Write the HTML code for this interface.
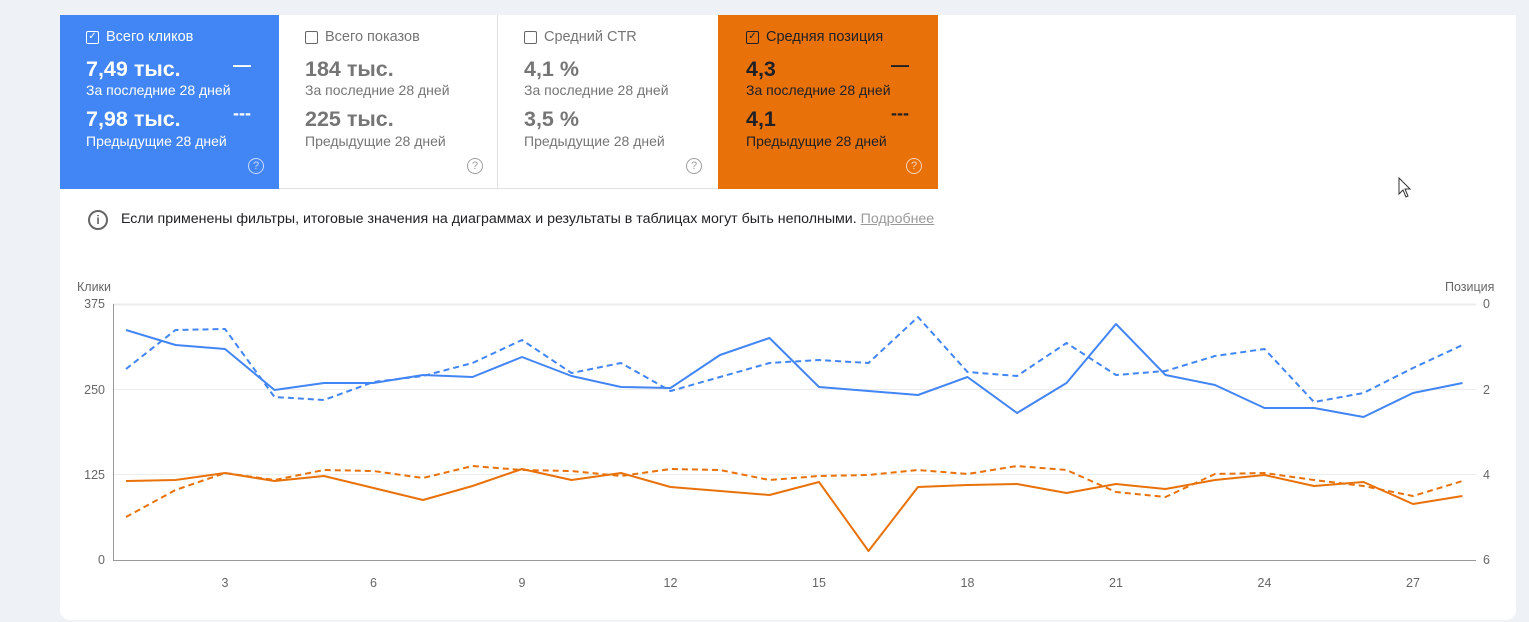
<!DOCTYPE html>
<html><head><meta charset="utf-8"><style>
body{margin:0;width:1529px;height:622px;background:#eef2f7;font-family:"Liberation Sans",sans-serif;position:relative;overflow:hidden}
.card{position:absolute;left:60px;top:15px;width:1456px;height:605px;background:#fff;border-radius:0 0 10px 10px}
.t{position:absolute;top:15px;height:174px;width:219px;box-sizing:border-box}
.t div{position:absolute;left:26px;white-space:nowrap}
.ti{top:14px;font-size:14.5px;padding-left:20px}
.cb{position:absolute;left:0!important;top:2px;width:11px;height:11px;border:1.5px solid;border-radius:2px}
.v{font-size:21.5px;font-weight:bold}
.s{font-size:14px}
.dash{position:absolute;left:173px!important;font-weight:bold;font-size:18px}
.q{position:absolute;left:188px!important;top:143px;width:14px;height:14px;border:1.5px solid;border-radius:50%;font-size:11px;text-align:center;line-height:14px;opacity:.7}
</style></head><body>
<div class="card"></div>
<div class="t" style="left:60px;background:#4285f4;color:#fff">
<div class="ti"><span class="cb" style="border-color:#fff;font-size:10px;line-height:10px;text-align:center">✓</span>Всего кликов</div>
<div class="v" style="top:42px">7,49 тыс.</div><div class="dash" style="top:40px">—</div>
<div class="s" style="top:67px">За последние 28 дней</div>
<div class="v" style="top:92px">7,98 тыс.</div><div class="dash" style="top:88px">---</div>
<div class="s" style="top:118px">Предыдущие 28 дней</div>
<div class="q">?</div></div>
<div class="t" style="left:279px;color:#757575;border-right:1px solid #e0e0e0;border-bottom:1px solid #e0e0e0">
<div class="ti"><span class="cb" style="border-color:#666"></span>Всего показов</div>
<div class="v" style="top:42px">184 тыс.</div>
<div class="s" style="top:67px">За последние 28 дней</div>
<div class="v" style="top:92px">225 тыс.</div>
<div class="s" style="top:118px">Предыдущие 28 дней</div>
<div class="q">?</div></div>
<div class="t" style="left:498px;color:#757575;border-bottom:1px solid #e0e0e0">
<div class="ti"><span class="cb" style="border-color:#666"></span>Средний CTR</div>
<div class="v" style="top:42px">4,1 %</div>
<div class="s" style="top:67px">За последние 28 дней</div>
<div class="v" style="top:92px">3,5 %</div>
<div class="s" style="top:118px">Предыдущие 28 дней</div>
<div class="q">?</div></div>
<div class="t" style="left:718px;width:220px;background:#e8710a;color:#202124">
<div class="ti" style="left:28px"><span class="cb" style="border-color:#202124;font-size:10px;line-height:10px;text-align:center">✓</span>Средняя позиция</div>
<div class="v" style="top:42px;left:28px">4,3</div><div class="dash" style="top:40px">—</div>
<div class="s" style="top:67px;left:28px">За последние 28 дней</div>
<div class="v" style="top:92px;left:28px">4,1</div><div class="dash" style="top:88px">---</div>
<div class="s" style="top:118px;left:28px">Предыдущие 28 дней</div>
<div class="q" style="color:#fff">?</div></div>
<div style="position:absolute;left:88px;top:210px;width:20px;height:20px;border:2px solid #666;border-radius:50%;box-sizing:border-box;color:#666;font-size:12px;font-weight:bold;text-align:center;line-height:17px">i</div>
<div style="position:absolute;left:121px;top:211px;font-size:14.2px;color:#202124;white-space:nowrap">Если применены фильтры, итоговые значения на диаграммах и результаты в таблицах могут быть неполными. <span style="color:#999;text-decoration:underline">Подробнее</span></div>
<svg style="position:absolute;left:0;top:0" width="1529" height="622">
<g font-family="Liberation Sans,sans-serif" font-size="12.5" fill="#666">
<text x="77" y="291">Клики</text><text x="1445" y="291">Позиция</text>
<text x="105" y="308" text-anchor="end">375</text><text x="105" y="394" text-anchor="end">250</text>
<text x="105" y="479" text-anchor="end">125</text><text x="105" y="564" text-anchor="end">0</text>
<text x="1483" y="308">0</text><text x="1483" y="394">2</text><text x="1483" y="479">4</text><text x="1483" y="564">6</text>
<g text-anchor="middle"><text x="225" y="587">3</text><text x="373.5" y="587">6</text><text x="522" y="587">9</text><text x="670.5" y="587">12</text><text x="819" y="587">15</text><text x="967.5" y="587">18</text><text x="1116" y="587">21</text><text x="1264.5" y="587">24</text><text x="1413" y="587">27</text></g>
</g>
<g stroke="#ececec" stroke-width="1"><line x1="113" y1="304.5" x2="1476" y2="304.5" stroke-width="2"/><line x1="113" y1="389.5" x2="1476" y2="389.5"/><line x1="113" y1="474.5" x2="1476" y2="474.5"/></g>
<line x1="113" y1="560.5" x2="1476" y2="560.5" stroke="#999"/><line x1="113.5" y1="304" x2="113.5" y2="560" stroke="#999"/>
<g fill="none" stroke-width="2" stroke-linejoin="round">
<polyline stroke="#4285f4" points="126,330 175.5,345 225,349 274.5,390 324,383 373.5,383 423,375 472.5,377 522,357 571.5,376 621,387 670.5,388 720,355 769.5,338 819,387 868.5,391 918,395 967.5,377 1017,413 1066.5,383 1116,324 1165.5,375 1215,385 1264.5,408 1314,408 1363.5,417 1413,393 1462.5,383"/>
<polyline stroke="#4285f4" stroke-dasharray="6,4" points="126,369 175.5,330 225,329 274.5,397 324,400 373.5,382 423,376 472.5,363 522,340 571.5,373 621,363 670.5,391 720,377 769.5,363 819,360 868.5,363 918,317 967.5,372 1017,376 1066.5,343 1116,375 1165.5,371 1215,356 1264.5,349 1314,402 1363.5,393 1413,368 1462.5,345"/>
<polyline stroke="#e8710a" points="126,481 175.5,480 225,473 274.5,481 324,476 373.5,488 423,500 472.5,486 522,469 571.5,480 621,473 670.5,487 720,491 769.5,495 819,482 868.5,551 918,487 967.5,485 1017,484 1066.5,493 1116,484 1165.5,489 1215,480 1264.5,475 1314,486 1363.5,482 1413,504 1462.5,496"/>
<polyline stroke="#e8710a" stroke-dasharray="6,4" points="126,517 175.5,490 225,473 274.5,480 324,470 373.5,471 423,478 472.5,466 522,470 571.5,471 621,476 670.5,469 720,470 769.5,480 819,476 868.5,475 918,470 967.5,474 1017,466 1066.5,470 1116,492 1165.5,497 1215,474 1264.5,473 1314,480 1363.5,486 1413,496 1462.5,481"/>
</g>
<path d="M1399,178 L1399,194 L1403,190 L1406,197 L1408,196 L1405,189 L1410,189 Z" fill="#fff" stroke="#333" stroke-width="1"/>
</svg>
</body></html>
